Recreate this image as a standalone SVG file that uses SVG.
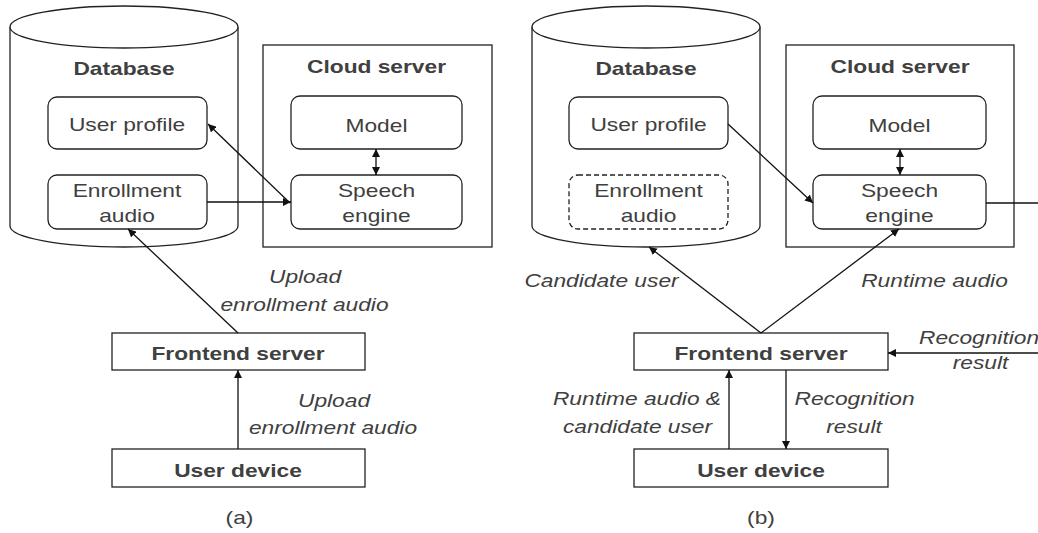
<svg xmlns="http://www.w3.org/2000/svg" width="1038" height="533" viewBox="0 0 1038 533">
<style>
text{font-family:"Liberation Sans",Arial,sans-serif;font-size:18.5px;fill:#404040;text-anchor:middle}
.b{font-weight:bold}
.i{font-style:italic}
.box{fill:#fff;stroke:#222;stroke-width:1.3}
.rbox{fill:#fff;stroke:#222;stroke-width:1.3}
.dash{fill:#fff;stroke:#222;stroke-width:1.3;stroke-dasharray:5 3}
.cyl{fill:#fff;stroke:#222;stroke-width:1.3}
.ln{fill:none;stroke:#111;stroke-width:1.3}
</style>
<defs>
<marker id="ah" viewBox="0 0 10 10" refX="10" refY="5" markerWidth="8" markerHeight="8" markerUnits="userSpaceOnUse" orient="auto-start-reverse">
<path d="M0,0 L10,5 L0,10 Z" fill="#111"/>
</marker>
</defs>
<rect width="1038" height="533" fill="#fff"/>

<!-- (a) -->
<g id="db-a">
<path class="cyl" d="M10,27 V226 A114,21 0 0,0 238,226 V27"/>
<ellipse class="cyl" cx="124" cy="27" rx="114" ry="21"/>
<text class="b" transform="translate(124,75) scale(1.23,1)">Database</text>
</g>
<g id="profile-a">
<rect class="rbox" x="48" y="97" width="159" height="52" rx="9"/>
<text transform="translate(127,131) scale(1.23,1)">User profile</text>
</g>
<g id="enroll-a">
<rect class="rbox" x="48" y="175" width="159" height="54" rx="9"/>
<text transform="translate(127,197) scale(1.23,1)">Enrollment</text>
<text transform="translate(127,222) scale(1.23,1)">audio</text>
</g>
<g id="cloud-a">
<rect class="box" x="263" y="45" width="229" height="202"/>
<text class="b" transform="translate(376.5,73) scale(1.23,1)">Cloud server</text>
</g>
<g id="model-a">
<rect class="rbox" x="291" y="96" width="171" height="53" rx="9"/>
<text transform="translate(376.5,132) scale(1.23,1)">Model</text>
</g>
<g id="engine-a">
<rect class="rbox" x="291" y="175" width="171" height="54" rx="9"/>
<text transform="translate(376.5,197) scale(1.23,1)">Speech</text>
<text transform="translate(376.5,222) scale(1.23,1)">engine</text>
</g>
<g id="frontend-a">
<rect class="box" x="112" y="333" width="253" height="37"/>
<text class="b" transform="translate(238,360) scale(1.23,1)">Frontend server</text>
</g>
<g id="device-a">
<rect class="box" x="112" y="449" width="253" height="38"/>
<text class="b" transform="translate(238,477) scale(1.23,1)">User device</text>
</g>
<text transform="translate(239.5,524) scale(1.23,1)">(a)</text>

<!-- (b) -->
<g id="db-b">
<path class="cyl" d="M532,27 V226 A114,21 0 0,0 760,226 V27"/>
<ellipse class="cyl" cx="646" cy="27" rx="114" ry="21"/>
<text class="b" transform="translate(646,75) scale(1.23,1)">Database</text>
</g>
<g id="profile-b">
<rect class="rbox" x="569" y="97" width="159" height="52" rx="9"/>
<text transform="translate(648.5,131) scale(1.23,1)">User profile</text>
</g>
<g id="enroll-b">
<rect class="dash" x="569" y="175" width="159" height="54" rx="9"/>
<text transform="translate(648.5,197) scale(1.23,1)">Enrollment</text>
<text transform="translate(648.5,222) scale(1.23,1)">audio</text>
</g>
<g id="cloud-b">
<rect class="box" x="786" y="45" width="228" height="202"/>
<text class="b" transform="translate(900,73) scale(1.23,1)">Cloud server</text>
</g>
<g id="model-b">
<rect class="rbox" x="813" y="96" width="173" height="53" rx="9"/>
<text transform="translate(899.5,132) scale(1.23,1)">Model</text>
</g>
<g id="engine-b">
<rect class="rbox" x="813" y="175" width="173" height="54" rx="9"/>
<text transform="translate(899.5,197) scale(1.23,1)">Speech</text>
<text transform="translate(899.5,222) scale(1.23,1)">engine</text>
</g>
<g id="frontend-b">
<rect class="box" x="634" y="333" width="254" height="37"/>
<text class="b" transform="translate(761,360) scale(1.23,1)">Frontend server</text>
</g>
<g id="device-b">
<rect class="box" x="634" y="449" width="254" height="38"/>
<text class="b" transform="translate(761,477) scale(1.23,1)">User device</text>
</g>
<text transform="translate(761,524) scale(1.23,1)">(b)</text>

<!-- connectors -->
<g id="connectors">
<line class="ln" x1="207" y1="202" x2="291" y2="202" marker-end="url(#ah)"/>
<line class="ln" x1="290" y1="203" x2="208" y2="124" marker-end="url(#ah)"/>
<line class="ln" x1="238" y1="333" x2="128" y2="229" marker-end="url(#ah)"/>
<line class="ln" x1="238" y1="449" x2="238" y2="370" marker-end="url(#ah)"/>
<line class="ln" x1="376" y1="149" x2="376" y2="175" marker-start="url(#ah)" marker-end="url(#ah)"/>

<line class="ln" x1="728" y1="124" x2="813" y2="203" marker-end="url(#ah)"/>
<line class="ln" x1="761" y1="333" x2="649" y2="247" marker-end="url(#ah)"/>
<line class="ln" x1="761" y1="333" x2="899" y2="229" marker-end="url(#ah)"/>
<line class="ln" x1="900" y1="149" x2="900" y2="175" marker-start="url(#ah)" marker-end="url(#ah)"/>
<line class="ln" x1="986" y1="203" x2="1038" y2="203"/>
<line class="ln" x1="1038" y1="353" x2="888" y2="353" marker-end="url(#ah)"/>
<line class="ln" x1="729" y1="449" x2="729" y2="370" marker-end="url(#ah)"/>
<line class="ln" x1="786" y1="370" x2="786" y2="449" marker-end="url(#ah)"/>
</g>

<!-- labels -->
<g id="labels">
<text class="i" transform="translate(305,283) scale(1.23,1)">Upload</text>
<text class="i" transform="translate(304.5,311) scale(1.23,1)">enrollment audio</text>
<text class="i" transform="translate(334,407) scale(1.23,1)">Upload</text>
<text class="i" transform="translate(333,434) scale(1.23,1)">enrollment audio</text>

<text class="i" transform="translate(601.5,287) scale(1.23,1)">Candidate user</text>
<text class="i" transform="translate(934.5,287) scale(1.23,1)">Runtime audio</text>
<text class="i" transform="translate(979,344) scale(1.23,1)">Recognition</text>
<text class="i" transform="translate(980.5,369) scale(1.23,1)">result</text>
<text class="i" transform="translate(637,405) scale(1.23,1)">Runtime audio &amp;</text>
<text class="i" transform="translate(637.5,433) scale(1.23,1)">candidate user</text>
<text class="i" transform="translate(854.5,405) scale(1.23,1)">Recognition</text>
<text class="i" transform="translate(854,433) scale(1.23,1)">result</text>
</g>
</svg>
